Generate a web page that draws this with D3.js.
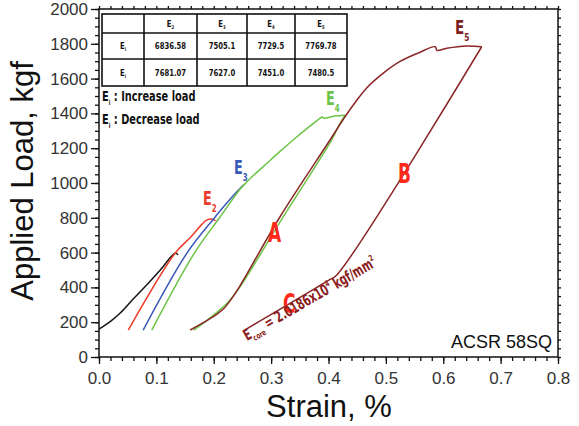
<!DOCTYPE html>
<html lang="en">
<head>
<meta charset="UTF-8">
<title>ACSR 58SQ Load-Strain</title>
<script src="https://d3js.org/d3.v7.min.js"></script>
<style>
  body { margin: 0; background: #fff; font-family: "Liberation Sans", Arial, sans-serif; }
  svg { display: block; }
  .cond { font-family: "DejaVu Sans Condensed", "DejaVu Sans", sans-serif; font-weight: bold; font-stretch: condensed; }
</style>
</head>
<body>
<svg id="chart" width="579" height="426"></svg>
<script>
// ---- data (strain %, load kgf) ----
const blackCurve = [[0,160],[0.02,205],[0.037,253],[0.06,335],[0.083,414],[0.108,505],[0.1325,596],[0.138,588]];
const redCurve = [[0.051,155],[0.1325,596],[0.16,690],[0.178,758],[0.1875,787],[0.199,791],[0.203,782]];
const blueCurve = [[0.077,155],[0.153,596],[0.2,795],[0.228,905],[0.2515,988]];
const greenLoad = [[0.092,155],[0.166,596],[0.21,800],[0.246,965],[0.2515,985],[0.268,1040],[0.286,1093],
  [0.315,1180],[0.345,1266],[0.367,1325],[0.385,1372],[0.389,1380],[0.392,1372],[0.41,1385],[0.429,1390]];
const greenUnload = [[0.429,1390],[0.42,1343],[0.405,1245],[0.32,800],[0.245,400],[0.225,315],[0.212,275],
  [0.19,215],[0.165,155]];
const brownLoad = [[0.159,155],[0.19,213],[0.205,245],[0.218,280],[0.23,330],[0.245,405],[0.3155,806],[0.4026,1247],
  [0.4288,1381],[0.448,1470],[0.467,1548],[0.495,1630],[0.524,1697],[0.555,1745],[0.586,1783],
  [0.589,1762],[0.606,1774],[0.641,1787],[0.667,1783]];
const brownUnload = [[0.667,1783],[0.414,470],[0.4,440],[0.254,155]];

const strainTicks = [0,0.1,0.2,0.3,0.4,0.5,0.6,0.7,0.8];
const loadTicks = [0,200,400,600,800,1000,1200,1400,1600,1800,2000];

const tableHeads = ["2","3","4","5"];
const tableIncrease = ["6836.58","7505.1","7729.5","7769.78"];
const tableDecrease = ["7681.07","7627.0","7451.0","7480.5"];

// ---- layout ----
const svg = d3.select("#chart");
const margin = { top: 9, left: 99 }, width = 459, height = 348;
const x = d3.scaleLinear().domain([0, 0.8]).range([0, width]);
const y = d3.scaleLinear().domain([0, 2000]).range([height, 0]);
const g = svg.append("g").attr("transform", `translate(${margin.left},${margin.top})`);

const minorX = d3.range(0, 0.8001, 0.02);
const minorY = d3.range(0, 2001, 50);

// frame
g.append("rect").attr("width", width).attr("height", height)
  .attr("fill", "none").attr("stroke", "#111").attr("stroke-width", 1.5);

// ticks (minor, then major)
function ticks(axisGen, scale, vals, size, tf) {
  const a = g.append("g").attr("transform", tf)
    .call(axisGen(scale).tickValues(vals).tickSize(size).tickFormat(""));
  a.select(".domain").remove();
  a.selectAll("line").attr("stroke", "#111").attr("stroke-width", 1.3);
}
ticks(d3.axisBottom, x, minorX, 4, `translate(0,${height})`);
ticks(d3.axisBottom, x, strainTicks, 7, `translate(0,${height})`);
ticks(d3.axisLeft, y, minorY, 4, "");
ticks(d3.axisLeft, y, loadTicks, 8, "");
ticks(d3.axisTop, x, minorX, 3, "");
ticks(d3.axisRight, y, minorY, 3, `translate(${width},0)`);

// tick labels
const xa = g.append("g").attr("transform", `translate(0,${height})`)
  .call(d3.axisBottom(x).tickValues(strainTicks).tickSize(0).tickPadding(15).tickFormat(d3.format(".1f")));
xa.select(".domain").remove();
xa.selectAll("text").attr("font-size", 17).attr("fill", "#333").attr("font-family", "Liberation Sans, Arial");
const ya = g.append("g")
  .call(d3.axisLeft(y).tickValues(loadTicks).tickSize(0).tickPadding(11).tickFormat(d3.format("d")));
ya.select(".domain").remove();
ya.selectAll("text").attr("font-size", 17).attr("fill", "#333").attr("font-family", "Liberation Sans, Arial");

// axis titles
svg.append("text").attr("x", 329).attr("y", 417).attr("text-anchor", "middle")
  .attr("font-size", 31).attr("fill", "#111").text("Strain, %");
svg.append("text").attr("transform", "translate(33,181) rotate(-90)").attr("text-anchor", "middle")
  .attr("font-size", 31).attr("fill", "#111").text("Applied Load, kgf");

// curves
const line = d3.line().x(d => x(d[0])).y(d => y(d[1])).curve(d3.curveCatmullRom.alpha(0.5));
[[blackCurve, "#151515"], [redCurve, "#ee3a2a"], [blueCurve, "#3a58b8"],
 [greenLoad, "#6cc447"], [greenUnload, "#6cc447"],
 [brownLoad, "#8a2626"], [brownUnload, "#8a2626"]].forEach(([data, c]) => {
  g.append("path").datum(data).attr("d", line)
    .attr("fill", "none").attr("stroke", c).attr("stroke-width", 1.5).attr("stroke-linejoin", "round");
});

// condensed labels
function label(px, py, main, sub, color, size, sx) {
  const t = svg.append("text").attr("class", "cond")
    .attr("transform", `translate(${px},${py}) scale(${sx},1)`)
    .attr("font-size", size).attr("fill", color);
  t.append("tspan").text(main);
  if (sub) t.append("tspan").attr("font-size", size * 0.55).attr("dy", size * 0.35).text(sub);
  return t;
}
label(203, 205, "E", "2", "#ee3a2a", 19, 0.75);
label(234, 174, "E", "3", "#3a58b8", 19, 0.75);
label(326, 105, "E", "4", "#6cc447", 19, 0.75);
label(455, 34, "E", "5", "#7d1e1e", 20, 0.75);
label(268, 242, "A", null, "#ff2a1a", 27, 0.7);
label(398, 183, "B", null, "#ff2a1a", 27, 0.7);
label(283, 313, "C", null, "#ff2a1a", 27, 0.7);

// E_core annotation
const ec = svg.append("text").attr("class", "cond")
  .attr("transform", "translate(247,341) rotate(-30) scale(0.73,1)")
  .attr("font-size", 15.5).attr("fill", "#8a2020");
ec.append("tspan").text("E");
ec.append("tspan").attr("font-size", 8.5).attr("dy", 4).text("core");
ec.append("tspan").attr("dy", -4).text(" = 2.0186x10");
ec.append("tspan").attr("font-size", 8.5).attr("dy", -7).text("4");
ec.append("tspan").attr("dy", 7).text(" kgf/mm");
ec.append("tspan").attr("font-size", 8.5).attr("dy", -7).text("2");

// ACSR text
svg.append("text").attr("x", 552).attr("y", 348).attr("text-anchor", "end")
  .attr("font-size", 18).attr("fill", "#111").text("ACSR 58SQ");

// table
const colEdges = [102, 144, 197, 247, 295, 347];
const rowEdges = [14, 33, 59, 86];
const tb = svg.append("g");
tb.append("rect").attr("x", colEdges[0]).attr("y", rowEdges[0])
  .attr("width", colEdges[5] - colEdges[0]).attr("height", rowEdges[3] - rowEdges[0])
  .attr("fill", "#fff").attr("stroke", "#111").attr("stroke-width", 1.6);
colEdges.slice(1, 5).forEach(cx => tb.append("line").attr("x1", cx).attr("x2", cx)
  .attr("y1", rowEdges[0]).attr("y2", rowEdges[3]).attr("stroke", "#111").attr("stroke-width", 1.6));
rowEdges.slice(1, 3).forEach(ry => tb.append("line").attr("y1", ry).attr("y2", ry)
  .attr("x1", colEdges[0]).attr("x2", colEdges[5]).attr("stroke", "#111").attr("stroke-width", 1.6));
function cell(ci, ri, main, sub) {
  const cx = (colEdges[ci] + colEdges[ci + 1]) / 2, cy = (rowEdges[ri] + rowEdges[ri + 1]) / 2 + 3;
  const t = tb.append("text").attr("class", "cond").attr("text-anchor", "middle")
    .attr("transform", `translate(${cx},${cy}) scale(0.85,1)`)
    .attr("font-size", 9).attr("fill", "#111");
  t.append("tspan").text(main);
  if (sub) t.append("tspan").attr("font-size", 5).attr("dy", 2).text(sub);
}
tableHeads.forEach((h, i) => cell(i + 1, 0, "E", h));
cell(0, 1, "E", "i"); cell(0, 2, "E", "i");
tableIncrease.forEach((v, i) => cell(i + 1, 1, v));
tableDecrease.forEach((v, i) => cell(i + 1, 2, v));

// legend notes
[["Increase load", 101], ["Decrease load", 124]].forEach(([txt, by]) => {
  const t = svg.append("text").attr("class", "cond")
    .attr("transform", `translate(102,${by}) scale(0.78,1)`)
    .attr("font-size", 14).attr("fill", "#111");
  t.append("tspan").text("E");
  t.append("tspan").attr("font-size", 7).attr("dy", 4).text("i");
  t.append("tspan").attr("dy", -4).text(" : " + txt);
});
</script>
</body>
</html>
